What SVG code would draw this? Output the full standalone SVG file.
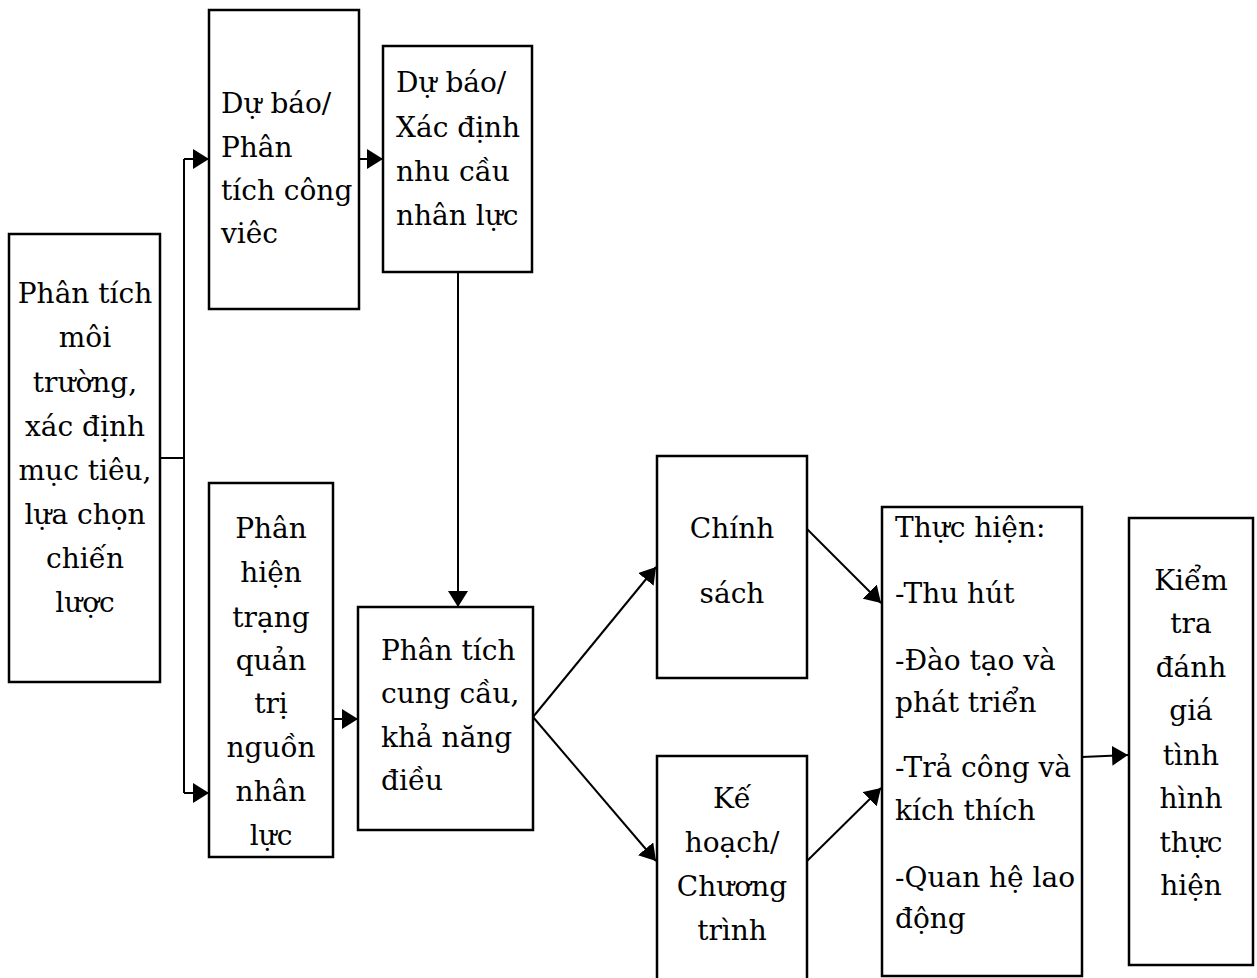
<svg xmlns="http://www.w3.org/2000/svg" width="1257" height="978" viewBox="0 0 1257 978">
<defs>
<style>
.box{fill:#fff;stroke:#000;stroke-width:2.5}
.t{font-family:"DejaVu Serif","Liberation Serif",serif;font-size:28px;fill:#000}
.c{text-anchor:middle}
.ln{fill:none;stroke:#000;stroke-width:2}
</style>
<marker id="ah" markerUnits="userSpaceOnUse" markerWidth="16" markerHeight="20" refX="16" refY="10" orient="auto" viewBox="0 0 16 20">
<path d="M0,0 L16,10 L0,20 z" fill="#000"/>
</marker>
</defs>
<g id="connectors">
<polyline class="ln" points="160,458 184,458"/>
<polyline class="ln" points="184,159 184,793"/>
<line class="ln" x1="184" y1="159" x2="209" y2="159" marker-end="url(#ah)"/>
<line class="ln" x1="184" y1="793" x2="209" y2="793" marker-end="url(#ah)"/>
<line class="ln" x1="359" y1="159" x2="383" y2="159" marker-end="url(#ah)"/>
<line class="ln" x1="458" y1="272" x2="458" y2="607" marker-end="url(#ah)"/>
<line class="ln" x1="333" y1="719" x2="358" y2="719" marker-end="url(#ah)"/>
<line class="ln" x1="533" y1="717" x2="656" y2="567" marker-end="url(#ah)"/>
<line class="ln" x1="533" y1="717" x2="656" y2="861" marker-end="url(#ah)"/>
<line class="ln" x1="807" y1="529" x2="881" y2="603" marker-end="url(#ah)"/>
<line class="ln" x1="807" y1="861" x2="881" y2="788" marker-end="url(#ah)"/>
<line class="ln" x1="1082" y1="757" x2="1128" y2="755" marker-end="url(#ah)"/>
</g>
<g id="n-moitruong">
<rect class="box" x="9" y="234" width="151" height="448"/>
<text class="t c" x="85" y="303">Phân tích</text>
<text class="t c" x="85" y="347">môi</text>
<text class="t c" x="85" y="392">trường,</text>
<text class="t c" x="85" y="436">xác định</text>
<text class="t c" x="85" y="480">mục tiêu,</text>
<text class="t c" x="85" y="524">lựa chọn</text>
<text class="t c" x="85" y="568">chiến</text>
<text class="t c" x="85" y="612">lược</text>
</g>
<g id="n-congviec">
<rect class="box" x="209" y="10" width="150" height="299"/>
<text class="t" x="221" y="113">Dự báo/</text>
<text class="t" x="221" y="157">Phân</text>
<text class="t" x="221" y="200">tích công</text>
<text class="t" x="221" y="243">viêc</text>
</g>
<g id="n-nhucau">
<rect class="box" x="383" y="46" width="149" height="226"/>
<text class="t" x="396" y="92">Dự báo/</text>
<text class="t" x="396" y="137">Xác định</text>
<text class="t" x="396" y="181">nhu cầu</text>
<text class="t" x="396" y="225">nhân lực</text>
</g>
<g id="n-hientrang">
<rect class="box" x="209" y="483" width="124" height="374"/>
<text class="t c" x="271" y="538">Phân</text>
<text class="t c" x="271" y="582">hiện</text>
<text class="t c" x="271" y="627">trạng</text>
<text class="t c" x="271" y="670">quản</text>
<text class="t c" x="271" y="713">trị</text>
<text class="t c" x="271" y="757">nguồn</text>
<text class="t c" x="271" y="801">nhân</text>
<text class="t c" x="271" y="845">lực</text>
</g>
<g id="n-cungcau">
<rect class="box" x="358" y="607" width="175" height="223"/>
<text class="t" x="381" y="660">Phân tích</text>
<text class="t" x="381" y="703">cung cầu,</text>
<text class="t" x="381" y="747">khả năng</text>
<text class="t" x="381" y="790">điều</text>
</g>
<g id="n-chinhsach">
<rect class="box" x="657" y="456" width="150" height="222"/>
<text class="t c" x="732" y="538">Chính</text>
<text class="t c" x="732" y="603">sách</text>
</g>
<g id="n-kehoach">
<rect class="box" x="657" y="756" width="150" height="225"/>
<text class="t c" x="732" y="808">Kế</text>
<text class="t c" x="732" y="852">hoạch/</text>
<text class="t c" x="732" y="896">Chương</text>
<text class="t c" x="732" y="940">trình</text>
</g>
<g id="n-thuchien">
<rect class="box" x="882" y="507" width="200" height="469"/>
<text class="t" x="895" y="537">Thực hiện:</text>
<text class="t" x="895" y="603">-Thu hút</text>
<text class="t" x="895" y="670">-Đào tạo và</text>
<text class="t" x="895" y="712">phát triển</text>
<text class="t" x="895" y="777">-Trả công và</text>
<text class="t" x="895" y="820">kích thích</text>
<text class="t" x="895" y="887">-Quan hệ lao</text>
<text class="t" x="895" y="928">động</text>
</g>
<g id="n-kiemtra">
<rect class="box" x="1129" y="518" width="124" height="447"/>
<text class="t c" x="1191" y="590">Kiểm</text>
<text class="t c" x="1191" y="633">tra</text>
<text class="t c" x="1191" y="677">đánh</text>
<text class="t c" x="1191" y="720">giá</text>
<text class="t c" x="1191" y="765">tình</text>
<text class="t c" x="1191" y="808">hình</text>
<text class="t c" x="1191" y="852">thực</text>
<text class="t c" x="1191" y="895">hiện</text>
</g>
</svg>
